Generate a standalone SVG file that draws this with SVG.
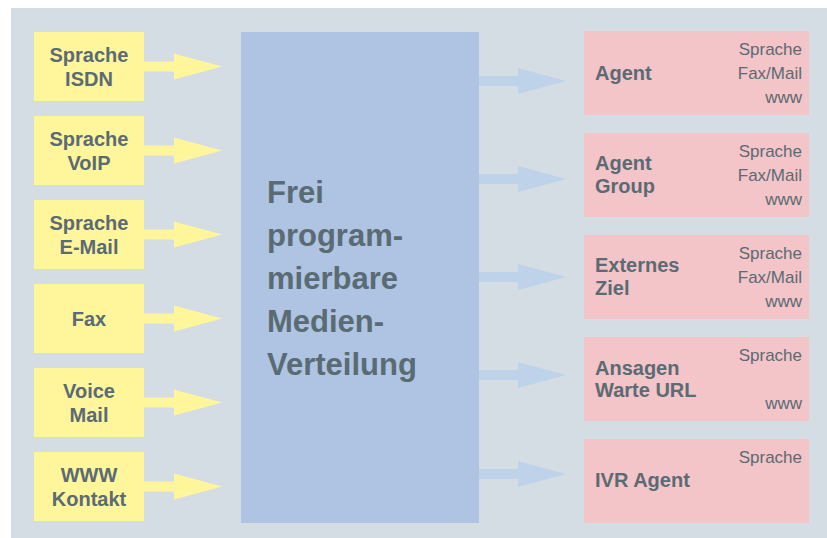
<svg xmlns="http://www.w3.org/2000/svg" width="827" height="538" viewBox="0 0 827 538">
<defs>
<style>
.bg{fill:#d5dde4}
.yel{fill:#fff59b}
.cen{fill:#aec4e2}
.pink{fill:#f3c4c8}
.ya{fill:#fff59b}
.ba{fill:#bed2ea}
.b{font-family:"Liberation Sans",Arial,sans-serif;font-weight:bold;fill:#5a6b74}
.in{font-size:20px;text-anchor:middle}
.out{font-size:20px}
.big{font-size:31px}
.r{font-family:"Liberation Sans",Arial,sans-serif;font-size:17px;fill:#5a6b74;text-anchor:end}
</style>
<path id="yarrow" d="M0,-5 H30 V-13 L78,0 L30,13 V5 H0 Z"/>
<path id="barrow" d="M0,-5 H39 V-13 L87,0 L39,13 V5 H0 Z"/>
</defs>
<rect class="bg" x="11" y="8" width="816" height="530"/>

<g id="connectors">
<use href="#yarrow" class="ya" x="144" y="66.5"/>
<use href="#yarrow" class="ya" x="144" y="150.5"/>
<use href="#yarrow" class="ya" x="144" y="234.5"/>
<use href="#yarrow" class="ya" x="144" y="318.5"/>
<use href="#yarrow" class="ya" x="144" y="402.5"/>
<use href="#yarrow" class="ya" x="144" y="486.5"/>
<use href="#barrow" class="ba" x="479" y="81"/>
<use href="#barrow" class="ba" x="479" y="179"/>
<use href="#barrow" class="ba" x="479" y="277"/>
<use href="#barrow" class="ba" x="479" y="375"/>
<use href="#barrow" class="ba" x="479" y="474"/>
</g>

<g id="in-isdn"><rect class="yel" x="34" y="32" width="110" height="69"/>
<text class="b in" x="89" y="62">Sprache</text><text class="b in" x="89" y="86">ISDN</text></g>
<g id="in-voip"><rect class="yel" x="34" y="116" width="110" height="69"/>
<text class="b in" x="89" y="146">Sprache</text><text class="b in" x="89" y="170">VoIP</text></g>
<g id="in-email"><rect class="yel" x="34" y="200" width="110" height="69"/>
<text class="b in" x="89" y="230">Sprache</text><text class="b in" x="89" y="254">E-Mail</text></g>
<g id="in-fax"><rect class="yel" x="34" y="284" width="110" height="69"/>
<text class="b in" x="89" y="326">Fax</text></g>
<g id="in-voicemail"><rect class="yel" x="34" y="368" width="110" height="69"/>
<text class="b in" x="89" y="398">Voice</text><text class="b in" x="89" y="422">Mail</text></g>
<g id="in-www"><rect class="yel" x="34" y="452" width="110" height="69"/>
<text class="b in" x="89" y="482">WWW</text><text class="b in" x="89" y="506">Kontakt</text></g>

<g id="center"><rect class="cen" x="241" y="32" width="238" height="491"/>
<text class="b big" x="267" y="203">Frei</text>
<text class="b big" x="267" y="246">program-</text>
<text class="b big" x="267" y="289">mierbare</text>
<text class="b big" x="267" y="332">Medien-</text>
<text class="b big" x="267" y="375">Verteilung</text></g>

<g id="out-agent"><rect class="pink" x="584" y="31" width="225" height="84"/>
<text class="b out" x="595" y="80">Agent</text>
<text class="r" x="802" y="55">Sprache</text><text class="r" x="802" y="79">Fax/Mail</text><text class="r" x="802" y="103">www</text></g>
<g id="out-group"><rect class="pink" x="584" y="133" width="225" height="84"/>
<text class="b out" x="595" y="170">Agent</text><text class="b out" x="595" y="193">Group</text>
<text class="r" x="802" y="157">Sprache</text><text class="r" x="802" y="181">Fax/Mail</text><text class="r" x="802" y="205">www</text></g>
<g id="out-extern"><rect class="pink" x="584" y="235" width="225" height="84"/>
<text class="b out" x="595" y="272">Externes</text><text class="b out" x="595" y="295">Ziel</text>
<text class="r" x="802" y="259">Sprache</text><text class="r" x="802" y="283">Fax/Mail</text><text class="r" x="802" y="307">www</text></g>
<g id="out-ansagen"><rect class="pink" x="584" y="337" width="225" height="84"/>
<text class="b out" x="595" y="375">Ansagen</text><text class="b out" x="595" y="397">Warte URL</text>
<text class="r" x="802" y="361">Sprache</text><text class="r" x="802" y="409">www</text></g>
<g id="out-ivr"><rect class="pink" x="584" y="439" width="225" height="84"/>
<text class="b out" x="595" y="487">IVR Agent</text>
<text class="r" x="802" y="463">Sprache</text></g>
</svg>
